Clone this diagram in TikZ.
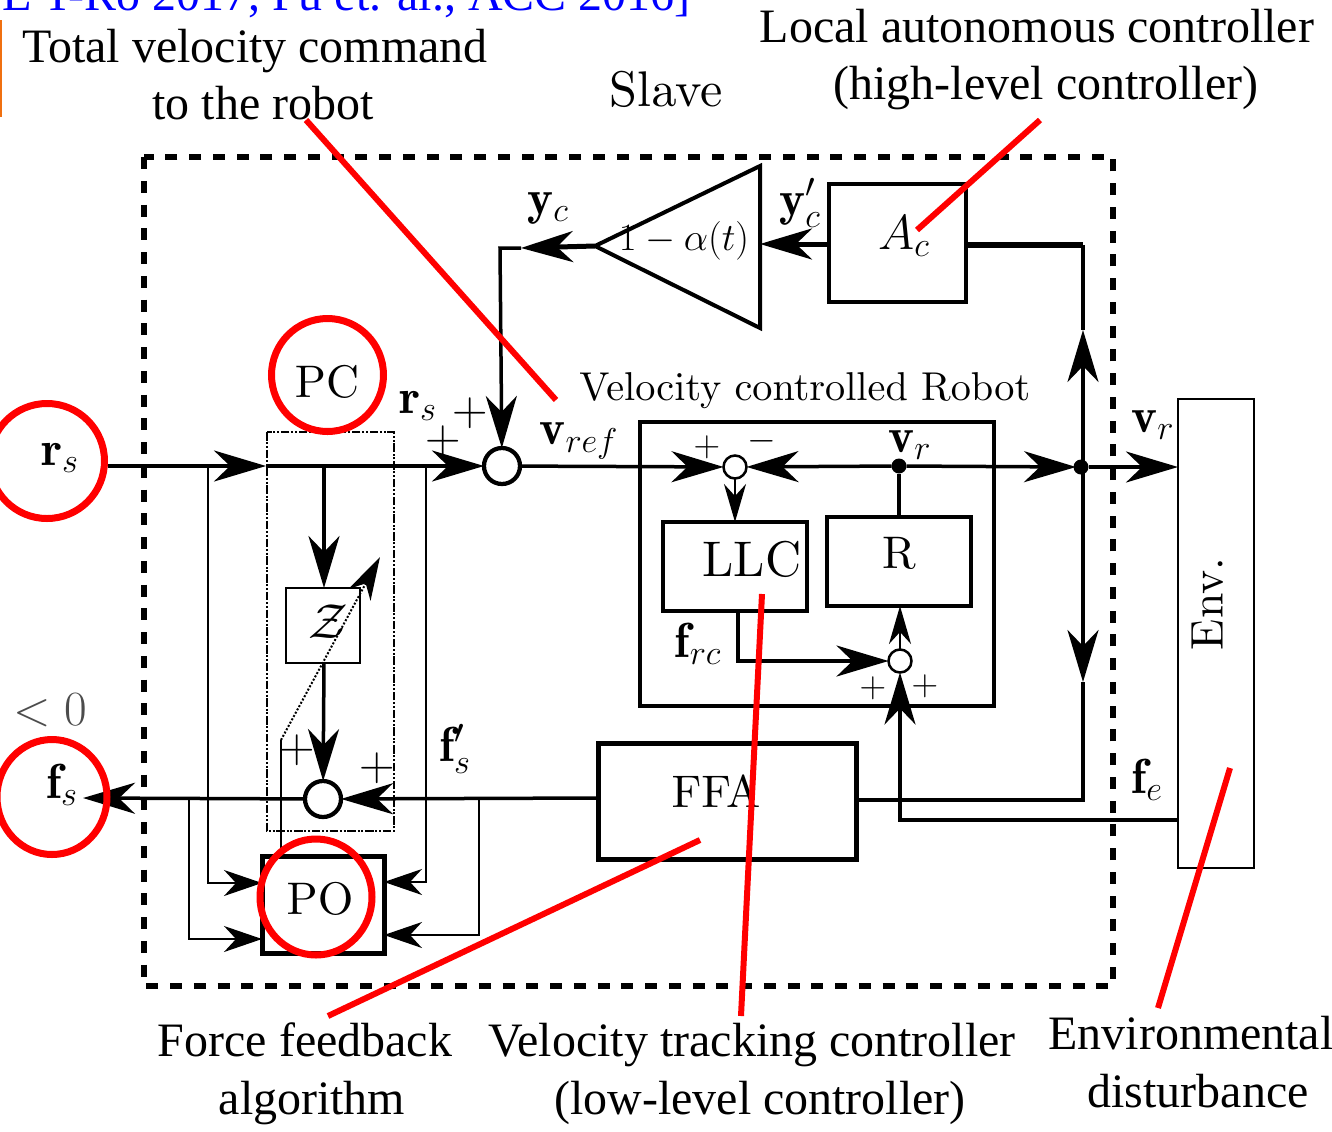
\documentclass[tikz,border=0pt]{standalone}
\usepackage{fix-cm}
\usepackage{amsmath}
\usepackage{xcolor}
\usepackage{fontspec}
\usepackage{tikz}
\usetikzlibrary{arrows.meta, positioning}
\newfontfamily\capfont{Liberation Serif}
\font\blockfont=cmr10 at 26pt
\font\bigblockfont=cmr10 at 28.5pt
\font\robotfont=cmr10 at 22.9pt
\definecolor{markred}{HTML}{FF0000}
\definecolor{citeblue}{HTML}{0000FF}
\definecolor{barorange}{HTML}{F07010}
\definecolor{ink}{HTML}{000000}

\begin{document}
\begin{tikzpicture}[x=0.2mm, y=-0.2mm, color=ink,
  >={Stealth[length=10.4mm, width=6.2mm, inset=3.2mm]},
  wire/.style={line width=0.7mm},
  thinwire/.style={line width=0.28mm},
  flow/.style={wire, ->},
  smallflow/.style={line width=0.4mm, -{Stealth[length=7.6mm, width=4.4mm, inset=2.4mm]}},
  poflow/.style={thinwire, -{Stealth[length=7.6mm, width=5.2mm, inset=2.4mm]}},
  blockbox/.style={draw, line width=0.65mm, inner sep=0pt, outer sep=0pt},
  thickbox/.style={blockbox, line width=1mm},
  sumnode/.style={draw, circle, line width=0.85mm, inner sep=0pt, outer sep=0pt, minimum size=7.2mm, fill=white},
  smallsum/.style={sumnode, line width=0.5mm, minimum size=4.6mm},
  dotnode/.style={circle, fill=ink, inner sep=0pt, outer sep=0pt, minimum size=3mm},
  lbl/.style={font=\fontsize{28}{32}\selectfont, inner sep=0pt},
  blocktext/.style={font=\blockfont, inner sep=0pt},
  signlbl/.style={font=\fontsize{21}{24}\selectfont, inner sep=0pt},
  caption/.style={font=\capfont\fontsize{27.3}{32}\selectfont, color=black, inner sep=0pt, anchor=base},
  redline/.style={markred, line width=1.2mm},
  redring/.style={markred, line width=1.4mm}]
\useasboundingbox (0,0) rectangle (1332,1131);
% —— citation strip and captions ——
\node[caption, citeblue, anchor=base east] (cite) at (691,10) {[IEEE T-Ro 2017, Fu et. al., ACC 2016]};
\fill[barorange] (0,20) rectangle (2,117);
\node[caption] (captotal) at (255,62) {Total velocity command};
\node[caption] (capto) at (263,119) {to the robot};
\node[caption] (caplocal) at (1037,42) {Local autonomous controller};
\node[caption] (caphigh) at (1046,99) {(high-level controller)};
\node[caption] (capforce) at (305,1056) {Force feedback};
\node[caption] (capalgo) at (312,1114) {algorithm};
\node[caption] (captrack) at (752,1056) {Velocity tracking controller};
\node[caption] (caplow) at (760,1114) {(low-level controller)};
\node[caption] (capenv) at (1191,1049) {Environmental};
\node[caption] (capdist) at (1198,1107) {disturbance};
% —— slave frame ——
\draw[line width=1.25mm, dash pattern=on 2.4mm off 2.35mm] (144,157) rectangle (1113,986);
\node[blocktext, font=\bigblockfont] (slave) at (666,89) {Slave};
% —— blocks ——
\node[blockbox, minimum width=27.4mm, minimum height=23.6mm] (ac) at (897.5,243) {};
\node[lbl] (aclabel) at (904,236) {$A_c$};
\coordinate (gaintop) at (760,166);
\coordinate (gainbot) at (760,328);
\coordinate (gainapex) at (595,246);
\draw[line width=0.8mm, line join=miter] (gaintop) -- (gainbot) -- (gainapex) -- cycle;
\node[font=\fontsize{22}{26}\selectfont, inner sep=0pt] (gainlabel) at (684,241) {$1-\alpha(t)$};
\node[blockbox, minimum width=70.8mm, minimum height=56.8mm] (robot) at (817,564) {};
\node[blocktext, font=\robotfont] (robotlabel) at (805,390) {Velocity controlled Robot};
\node[blockbox, minimum width=28.8mm, minimum height=17.8mm] (llc) at (735,566.5) {};
\node[blocktext, font=\bigblockfont] (llclabel) at (752,559) {LLC};
\node[blockbox, minimum width=28.8mm, minimum height=17.8mm] (rblock) at (899,561.5) {};
\node[blocktext] (rlabel) at (899,553) {R};
\node[thickbox, minimum width=51.6mm, minimum height=23.2mm] (ffa) at (727,801) {};
\node[blocktext] (ffalabel) at (716,792) {FFA};
\node[thickbox, minimum width=24.4mm, minimum height=19.4mm] (po) at (323,904.5) {};
\node[blocktext] (polabel) at (320,899) {PO};
\node[draw, line width=0.35mm, inner sep=0pt, outer sep=0pt, minimum width=15.2mm, minimum height=93.8mm] (env) at (1216,633.5) {};
\node[blocktext, rotate=90] (envlabel) at (1207,604) {Env.};
\node[draw, line width=0.28mm, inner sep=0pt, outer sep=0pt, minimum width=14.8mm, minimum height=15mm] (zblock) at (323,625.5) {};
\node[lbl] (zlabel) at (328,622) {$\mathcal{Z}$};
\draw[line width=0.55mm, dash pattern=on 1.7mm off 0.35mm on 0.4mm off 0.35mm on 0.4mm off 0.35mm] (267,432) rectangle (394,831);
\node[blocktext] (pclabel) at (327,382) {PC};
% —— summing points ——
\node[sumnode] (sumv) at (502,466) {};
\node[smallsum] (sume) at (735,467) {};
\node[smallsum] (sumr) at (900,661) {};
\node[sumnode] (sumf) at (323,799) {};
\node[dotnode] (dotr) at (899,466) {};
\node[dotnode] (dotj) at (1081,467) {};
% —— forward path ——
\coordinate (rsin) at (108,466);
\coordinate (pcin) at (266,466);
\coordinate (tapz) at (324,466);
\coordinate (jin) at (1076,467);
\coordinate (envin) at (1178,467);
\draw[flow] (rsin) -- (pcin);
\draw[flow] (pcin) -- (sumv);
\draw[flow] (sumv) -- (sume);
\draw[flow] (dotr) -- (sume);
\draw[flow] (dotr) -- (jin);
\draw[flow] (dotj) -- (envin);
\draw[smallflow] (sume) -- (llc.north -| sume);
\draw[wire] (dotr) -- (rblock.north -| dotr);
\draw[flow] (tapz) -- (zblock.north -| tapz);
\draw[flow] (zblock.south -| tapz) -- (sumf);
% —— feedback from the local controller ——
\coordinate (accorner) at (1083,245);
\coordinate (upmark) at (1083,330);
\coordinate (downmark) at (1083,682);
\coordinate (ffacorner) at (1083,800);
\coordinate (ycmark) at (521,248);
\coordinate (yccorner) at (500,248);
\draw[line width=1.1mm] (ac.east |- accorner) -- (accorner);
\draw[wire] (accorner) -- (upmark);
\draw[flow] (dotj -| upmark) -- (upmark);
\draw[flow] (dotj -| downmark) -- (downmark);
\draw[wire] (downmark) -- (ffacorner) -- (ffa.east |- ffacorner);
\draw[line width=1mm, ->] (ac.west |- 0,244) -- (760,244);
\draw[line width=1mm, ->] (gainapex) -- (ycmark);
\draw[flow] (ycmark) -- (yccorner) -- (sumv);
% —— robot inner loop ——
\coordinate (llcout) at (738,611);
\coordinate (llcturn) at (738,661);
\draw[flow] (llcout) -- (llcturn) -- (sumr);
\draw[smallflow] (sumr) -- (rblock.south -| sumr);
\coordinate (envout) at (1178,820);
\coordinate (envturn) at (900,820);
\draw[flow] (envout) -- (envturn) -- (sumr);
% —— force path ——
\coordinate (fsout) at (83,798);
\coordinate (ffain) at (598,798);
\draw[flow] (ffain) -- (sumf);
\draw[flow] (sumf) -- (fsout);
% —— inputs of the observer ——
\coordinate (tapa) at (208,466);
\coordinate (tapb) at (426,466);
\coordinate (tapc) at (189,799);
\coordinate (tapd) at (479,798);
\draw[poflow] (tapa) -- (208,883) -- (po.west |- 0,883);
\draw[poflow] (tapb) -- (426,882) -- (po.east |- 0,882);
\draw[poflow] (tapc) -- (189,939) -- (po.west |- 0,939);
\draw[poflow] (tapd) -- (479,935) -- (po.east |- 0,935);
% —— adjustable link through the PC box ——
\coordinate (linkbend) at (281,740);
\coordinate (linktip) at (380,557);
\draw[line width=0.55mm] (po.north -| linkbend) -- (linkbend);
\draw[line width=0.4mm, densely dotted, -{Stealth[length=8.6mm, width=5mm, inset=2.6mm]}] (linkbend) -- (linktip);
% —— signal labels ——
\node[lbl] (rsleft) at (60,458) {$\mathbf{r}_s$};
\node[lbl] (rsright) at (418,406) {$\mathbf{r}_s$};
\node[lbl] (vref) at (579,441) {$\mathbf{v}_{ref}$};
\node[lbl] (vrin) at (910,445) {$\mathbf{v}_r$};
\node[lbl] (vrout) at (1153,425) {$\mathbf{v}_r$};
\node[lbl] (ycl) at (548,208) {$\mathbf{y}_c$};
\node[lbl] (ycp) at (800,203) {$\mathbf{y}'_c$};
\node[lbl] (frc) at (698,644) {$\mathbf{f}_{rc}$};
\node[lbl] (fsp) at (455,749) {$\mathbf{f}'_s$};
\node[lbl] (fsl) at (62,785) {$\mathbf{f}_s$};
\node[lbl] (fel) at (1147,780) {$\mathbf{f}_e$};
\node[lbl, color=black!70] (ltzero) at (50,710) {$<0$};
% signs at the summing points
\node[lbl] (pa) at (470,413) {$+$};
\node[lbl] (pb) at (443,441) {$+$};
\node[signlbl] (pc) at (707,447) {$+$};
\node[signlbl] (mc) at (762,441) {$-$};
\node[signlbl] (pd) at (873,688) {$+$};
\node[signlbl] (pe) at (925,686) {$+$};
\node[lbl] (pf) at (297,750) {$+$};
\node[lbl] (pg) at (377,768) {$+$};
% —— red marks on top ——
\draw[redline] (306,120) -- (556,400);
\draw[redline] (1040,120) -- (917,230);
\draw[redline] (762,594) -- (741,1016);
\draw[redline] (700,840) -- (328,1016);
\draw[redline] (1230,768) -- (1158,1008);
\draw[redring] (47,461) ellipse [x radius=57.5, y radius=57.5];
\draw[redring] (327.5,375) ellipse [x radius=56, y radius=56.5];
\draw[redring] (52,797) ellipse [x radius=55, y radius=57.5];
\draw[redring] (316,897) ellipse [x radius=56, y radius=58];
\end{tikzpicture}
\end{document}
